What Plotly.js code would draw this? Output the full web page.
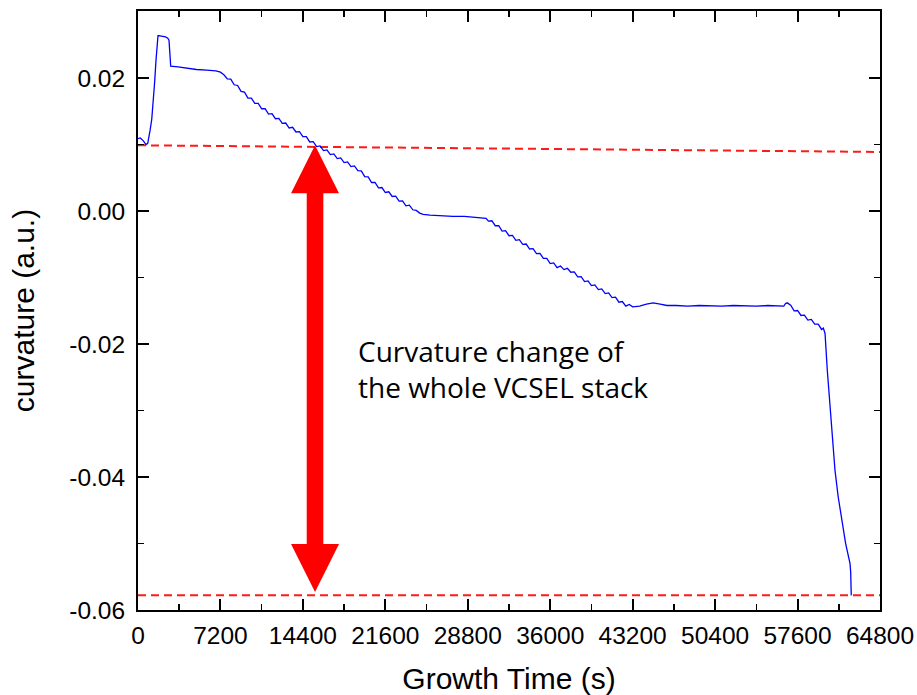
<!DOCTYPE html>
<html><head><meta charset="utf-8">
<script src="https://cdn.plot.ly/plotly-3.0.1.min.js"></script>
<style>html,body{margin:0;padding:0;background:#fff;}#chart{width:917px;height:695px;}</style>
</head><body><div id="chart"></div>
<script>
// ---- data ----
const timeS = [0,200,450,700,850,950,1050,1200,1336,1450,1572,1680,1747,1800,2100,2400,2600,2707,2780,2856,3500,4300,5100,6000,6800,7200,7500,7800,
8100,8400,8700,9000,9300,9600,9900,10200,10500,10800,11100,11400,11700,12000,12300,12600,12900,13200,13500,13800,14100,14400,14700,15000,15300,15600,15900,16200,16500,16800,17100,17400,17700,18000,18300,18600,18900,19200,19500,19800,20100,20400,20700,21000,21300,21600,21900,22200,22500,22800,23100,23400,23700,24000,24300,24600,24900,
25500,26400,27500,28500,29400,30100,30400,
30600,30900,31200,31500,31800,32100,32400,32700,33000,33300,33600,33900,34200,34500,34800,35100,35400,35700,36000,36300,36600,36900,37200,37500,37800,38100,38400,38700,39000,39300,39600,39900,40200,40500,40800,41100,41400,41700,42000,42300,42600,42900,43200,
43800,44400,45000,45600,46200,47000,48000,49000,50000,51000,52000,53000,54000,55000,56000,56400,
56550,56700,57000,57300,57600,57900,58200,58500,58800,59100,59400,59700,59850,60000,
60200,60433,60650,60870,61150,61453,61800,62180,62240,62290];
const curvature = [0.0109,0.0110,0.0106,0.0100,0.0102,0.0110,0.0121,0.0138,0.0162,0.0193,0.0227,0.0256,0.0264,0.0264,0.0263,0.0262,0.0260,0.0257,0.0238,0.0218,0.0217,0.0215,0.0213,0.0212,0.0211,0.0209,0.0205,0.0199,
0.01985,0.0190,0.0189,0.0180,0.0179,0.0170,0.0170,0.0162,0.0162,0.0154,0.0154,0.0146,0.01465,0.0139,0.01395,0.0132,0.01325,0.0125,0.0126,0.0119,0.01195,0.0112,0.0112,0.0104,0.01045,0.0097,0.0098,0.0091,0.0092,0.0085,0.0086,0.0079,0.0080,0.0073,0.0074,0.0067,0.0068,0.0061,0.00605,0.0052,0.00515,0.0043,0.0043,0.0035,0.00355,0.0028,0.0029,0.0022,0.00225,0.0015,0.00155,0.0008,0.0009,0.0002,0.0001,-0.0003,-0.0005,
-0.0006,-0.0007,-0.0008,-0.0008,-0.0009,-0.0010,-0.0011,
-0.0015,-0.00145,-0.0022,-0.0022,-0.0030,-0.00295,-0.0037,-0.00365,-0.0044,-0.0043,-0.0050,-0.00495,-0.0057,-0.00565,-0.0064,-0.00635,-0.0071,-0.0071,-0.0079,-0.0078,-0.0085,-0.00825,-0.0088,-0.0086,-0.0092,-0.00915,-0.0099,-0.00985,-0.0106,-0.0105,-0.0112,-0.0111,-0.0118,-0.0117,-0.0124,-0.0123,-0.0130,-0.01295,-0.0137,-0.0136,-0.0143,-0.01405,-0.0144,
-0.0143,-0.0140,-0.0138,-0.0140,-0.0142,-0.0142,-0.0143,-0.0142,-0.0143,-0.0143,-0.0142,-0.0143,-0.0143,-0.0142,-0.0143,-0.0143,
-0.0139,-0.0138,-0.01415,-0.0150,-0.01495,-0.0157,-0.01565,-0.0164,-0.0163,-0.0170,-0.0170,-0.0178,-0.0176,-0.0184,
-0.0240,-0.0290,-0.0340,-0.0390,-0.0430,-0.0465,-0.0500,-0.0530,-0.0543,-0.0578];

const refTopX = [0, 64800];
const refTopY = [0.0099, 0.0089];
const refBottomX = [0, 64800];
const refBottomY = [-0.0578, -0.0578];

const xTickVals = [0, 7200, 14400, 21600, 28800, 36000, 43200, 50400, 57600, 64800];
const xTickText = ['0','7200','14400','21600','28800','36000','43200','50400','57600','64800'];
const yTickVals = [0.02, 0.00, -0.02, -0.04, -0.06];
const yTickText = ['0.02','0.00','-0.02','-0.04','-0.06'];

const arrowX = 15460;
const arrowTopY = 0.0099;
const arrowBottomY = -0.0573;
const noteText = 'Curvature change of<br>the whole VCSEL stack';
const noteX = 19000;
const noteY = -0.0237;

// ---- layout geometry ----
const W = 917, H = 695;
const M = {l: 138, r: 37, t: 11, b: 85};
const xRange = [0, 64800];
const yRange = [-0.06, 0.0301];
const plotW = W - M.l - M.r, plotH = H - M.t - M.b;
const pxPerX = plotW / (xRange[1] - xRange[0]);
const pxPerY = plotH / (yRange[1] - yRange[0]);
const headH = 48 / pxPerY, headHalf = 24 / pxPerX, shaftHalf = 8.3 / pxPerX;
const ax = arrowX, t = arrowTopY, b = arrowBottomY;
const arrowPath = [
  'M', ax, t,
  'L', ax + headHalf, t - headH,
  'L', ax + shaftHalf, t - headH,
  'L', ax + shaftHalf, b + headH,
  'L', ax + headHalf, b + headH,
  'L', ax, b,
  'L', ax - headHalf, b + headH,
  'L', ax - shaftHalf, b + headH,
  'L', ax - shaftHalf, t - headH,
  'L', ax - headHalf, t - headH, 'Z'
].join(' ');

const arial = '"Liberation Sans", Arial, sans-serif';

const traces = [
  {x: refTopX, y: refTopY, mode: 'lines', line: {color: '#ff1a1a', width: 2, dash: '8px,5px'}, hoverinfo: 'skip', showlegend: false},
  {x: refBottomX, y: refBottomY, mode: 'lines', line: {color: '#ff1a1a', width: 2, dash: '8px,5px'}, hoverinfo: 'skip', showlegend: false},
  {x: timeS, y: curvature, mode: 'lines', line: {color: '#0000ff', width: 1.3}, name: 'curvature', showlegend: false}
];

const axisCommon = {
  showgrid: false, zeroline: false, showline: true, linecolor: '#000', linewidth: 2,
  mirror: 'ticks', ticks: 'inside', ticklen: 11, tickwidth: 2, tickcolor: '#000',
  tickfont: {family: arial, size: 24.5, color: '#000'}
};

const layout = {
  width: W, height: H,
  margin: M,
  paper_bgcolor: '#fff', plot_bgcolor: '#fff',
  showlegend: false,
  xaxis: Object.assign({}, axisCommon, {
    range: xRange, tickmode: 'array', tickvals: xTickVals, ticktext: xTickText,
    ticklabelstandoff: 3,
    minor: {tickmode: 'linear', tick0: 0, dtick: 3600, ticks: 'inside', ticklen: 6, tickwidth: 1.5, tickcolor: '#000'},
    title: {text: 'Growth Time (s)', font: {family: arial, size: 30, color: '#000'}, standoff: 22}
  }),
  yaxis: Object.assign({}, axisCommon, {
    range: yRange, tickmode: 'array', tickvals: yTickVals, ticktext: yTickText,
    ticklabelstandoff: 6,
    minor: {tickmode: 'linear', tick0: 0, dtick: 0.01, ticks: 'inside', ticklen: 6, tickwidth: 1.5, tickcolor: '#000'},
    title: {text: 'curvature (a.u.)', font: {family: arial, size: 30, color: '#000'}, standoff: 26}
  }),
  shapes: [
    {type: 'path', xref: 'x', yref: 'y', path: arrowPath, fillcolor: '#ff0000', line: {width: 0}, layer: 'above'}
  ],
  annotations: [
    {x: noteX, y: noteY, xref: 'x', yref: 'y', text: noteText, showarrow: false,
     xanchor: 'left', yanchor: 'middle', align: 'left',
     font: {family: '"Open Sans", "Noto Sans", sans-serif', size: 28, color: '#000'}}
  ]
};

Plotly.newPlot('chart', traces, layout, {staticPlot: true, displayModeBar: false});
</script>
</body></html>
